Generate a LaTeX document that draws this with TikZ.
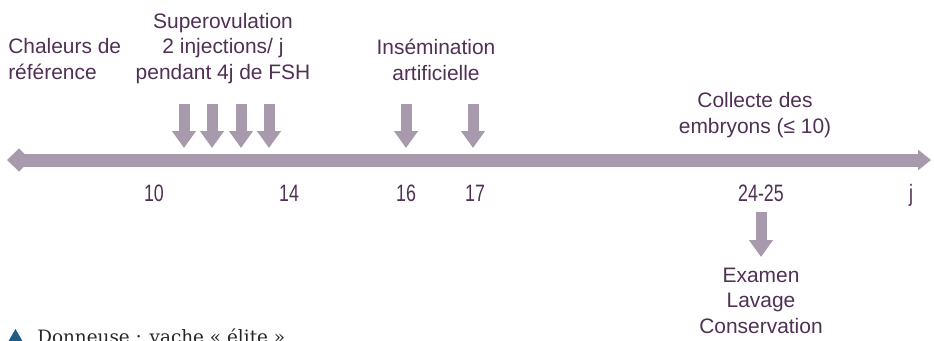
\documentclass[tikz,border=0pt]{standalone}
\usepackage{fontspec}
\setmainfont{Liberation Sans}
\newfontfamily\numfont{Liberation Sans}[FakeStretch=0.75]
\newfontfamily\capfont{DejaVu Serif}
\usetikzlibrary{arrows.meta}
\definecolor{tl}{RGB}{168,154,173}
\definecolor{tx}{RGB}{80,48,84}
\definecolor{tri}{RGB}{30,92,140}
\begin{document}
\begin{tikzpicture}[x=0.75pt,y=-0.75pt,
  lbl/.style={text=tx,font=\fontsize{15.7}{19.1}\selectfont,align=center,inner sep=0pt,anchor=base},
  num/.style={text=tx,font=\numfont\fontsize{17.8}{20}\selectfont,inner sep=0pt,anchor=base},
  axis/.style={draw=tl,line width=9.75pt,{Diamond[length=18pt,width=17.25pt]}-{Triangle[length=9.75pt,width=15pt]}},
  darrow/.style={draw=tl,line width=8.25pt,-{Triangle[length=12.75pt,width=17.25pt]}}]
\useasboundingbox (0,0) rectangle (934,340);
% timeline
\coordinate (tstart) at (7,160);
\coordinate (tend) at (931,160);
\path[axis] (tstart) -- (tend);
% arrows
\foreach \n/\x in {a1/184,a2/212,a3/241,a4/269,a5/406,a6/473}{
  \coordinate (\n top) at (\x,104);
  \coordinate (\n tip) at (\x,148);
  \path[darrow] (\n top) -- (\n tip);
}
\coordinate (b top) at (761,212);
\coordinate (b tip) at (761,257);
\path[darrow] (b top) -- (b tip);
% labels (anchor base = baseline of last line)
\node[lbl,align=left,anchor=base west] (chal) at (8,79) {Chaleurs de\\référence};
\node[lbl] (sup) at (223,79) {Superovulation\\2 injections/ j\\pendant 4j de FSH};
\node[lbl] (ins) at (436,80) {Insémination\\artificielle};
\node[lbl] (col) at (755,133) {Collecte des\\embryons (≤ 10)};
\node[lbl] (exa) at (761,333) {Examen\\Lavage\\Conservation};
% numbers
\node[num] (n10) at (154,201) {10};
\node[num] (n14) at (289,201) {14};
\node[num] (n16) at (406,201) {16};
\node[num] (n17) at (475,201) {17};
\node[num] (n24) at (761,201) {24-25};
\node[num] (nj) at (911,201) {j};
% caption
\fill[tri] (8,342) -- (23,342) -- (15.5,329) -- cycle;
\node[text=black!85,font=\capfont\fontsize{13.8}{17}\selectfont,inner sep=0pt,anchor=base west] (cap) at (37,343) {Donneuse : vache « élite »};
\end{tikzpicture}
\end{document}
